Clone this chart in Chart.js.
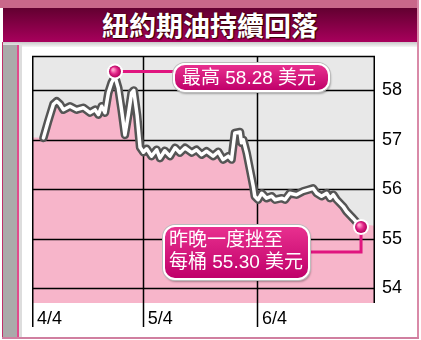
<!DOCTYPE html>
<html lang="zh-Hant">
<head>
  <meta charset="UTF-8" />
  <title>紐約期油持續回落</title>
  <style>
    body { margin: 0; background: #fff; font-family: "Liberation Sans", "Noto Sans CJK TC", sans-serif; }
    #frame { position: relative; width: 421px; height: 340px; overflow: hidden; }
    #frame div, #frame canvas { position: absolute; }
    .topstrip { left: 0; top: 0; width: 418px; height: 8px; background: #c9678a; }
    .titlebar { left: 3px; top: 8px; width: 414px; height: 34px; background: linear-gradient(#620030, #a8005c); color: #fff;
      font: bold 27px "Noto Sans CJK TC", sans-serif; text-align: center; line-height: 34px; text-shadow: 0 0 2px #300, 1px 1px 1px #300; }
    .subbar { left: 3px; top: 42px; width: 414px; height: 5px; background: linear-gradient(#c8c8c8, #f6f6f6); }
    .leftedge { left: 2px; top: 42px; width: 1px; height: 296px; background: #c0306a; }
    .grayband { left: 3px; top: 45px; width: 14px; height: 293px; background: #aaa; }
    .pinkline { left: 17px; top: 45px; width: 2px; height: 293px; background: #e04a8c; }
    .lightline { left: 19px; top: 45px; width: 3px; height: 293px; background: #ddd; }
    .rightedge { left: 417px; top: 0; width: 2px; height: 338px; background: #d98aa8; }
    .bottomedge { left: 2px; top: 337px; width: 417px; height: 2px; background: #d07fa0; }
    #plotbg { left: 32px; top: 56px; width: 343px; height: 247px; background: #e8e8e8; }
    #chart { left: 32px; top: 38px; }
    .tag { box-sizing: border-box; border: 2px solid #fff; border-radius: 12px; color: #fff; font-size: 19px;
      background: linear-gradient(#e8308f, #c0006a); box-shadow: 0 0 0 1px #bbb, 1px 2px 2px rgba(0,0,0,0.3); white-space: nowrap; }
    #tagMax { left: 173px; top: 63px; width: 157px; height: 29px; padding-left: 7px; line-height: 25px; }
    #tagLast { left: 163px; top: 225px; width: 147px; height: 55px; padding: 2px 0 0 4px; line-height: 22px; }
  </style>
</head>
<body>
  <div id="frame">
    <div class="topstrip"></div>
    <div class="titlebar">紐約期油持續回落</div>
    <div class="subbar"></div>
    <div class="leftedge"></div>
    <div class="grayband"></div>
    <div class="pinkline"></div>
    <div class="lightline"></div>
    <div class="rightedge"></div>
    <div class="bottomedge"></div>
    <div id="plotbg"></div>
    <canvas id="chart" width="389" height="302"></canvas>
    <div class="tag" id="tagMax">最高 58.28 美元</div>
    <div class="tag" id="tagLast">昨晚一度挫至<br>每桶 55.30 美元</div>
  </div>

  <script src="https://cdn.jsdelivr.net/npm/chart.js"></script>
  <script>
    // days counted from 4/4
    const xTickDays = [0, 30, 61];
    const xTickLabels = ["4/4", "5/4", "6/4"];
    const yTicks = [54, 55, 56, 57, 58];

    const days = [
      3.1, 4.4, 5.8, 6.7, 7.6, 8.5, 10.3, 12.1, 13.9, 15.7,
      17.1, 18.0, 18.9, 19.8, 20.7, 21.6, 22.5, 23.4, 24.3, 25.2,
      26.1, 27.0, 27.6, 28.5, 29.3, 30.2, 31.1, 32.4, 33.8, 34.7,
      36.0, 37.4, 38.8, 40.1, 41.5, 43.3, 44.6, 46.0, 47.3, 49.1,
      50.5, 51.8, 53.2, 54.1, 55.0, 56.4, 56.8, 57.3, 58.2, 59.1,
      60.0, 60.4, 61.3, 62.3, 63.6, 65.0, 65.9, 67.7, 68.6, 69.9,
      71.7, 73.5, 74.9, 76.2, 77.2, 78.5, 79.9, 80.8, 81.7, 82.6,
      83.5, 84.4, 85.3, 86.2, 87.1, 88.4
    ];
    const prices = [
      57.04, 57.38, 57.72, 57.78, 57.72, 57.61, 57.68, 57.61, 57.65, 57.55,
      57.61, 57.51, 57.68, 57.55, 57.95, 58.16, 58.28, 58.05, 57.60, 57.10,
      57.50, 57.95, 58.00, 57.50, 56.85, 56.75, 56.82, 56.67, 56.80, 56.63,
      56.78, 56.67, 56.84, 56.74, 56.84, 56.74, 56.80, 56.70, 56.77, 56.67,
      56.76, 56.60, 56.67, 56.60, 57.14, 57.16, 56.94, 57.00, 56.74, 56.40,
      56.06, 55.86, 55.79, 55.92, 55.82, 55.86, 55.79, 55.82, 55.79, 55.92,
      55.89, 55.96, 55.99, 56.02, 55.92, 55.86, 55.92, 55.82, 55.89, 55.79,
      55.72, 55.65, 55.55, 55.48, 55.41, 55.30
    ];
    // pink area runs flat out to the plot edges
    const fillEdgeDays = [0, 93];
    const fillEdgePrices = [57.05, 55.26];

    const points = days.map((d, i) => ({ x: d, y: prices[i] }));
    const fillPoints = [{ x: fillEdgeDays[0], y: fillEdgePrices[0] }, ...points, { x: fillEdgeDays[1], y: fillEdgePrices[1] }];

    // grid goes over the pink fill but under the price line:
    // drawn just before the grey outline dataset (index 1)
    const frameGrid = {
      id: "frameGrid",
      beforeDatasetDraw(chart, args) {
        if (args.index !== 1) return;
        const { ctx, chartArea: a, scales: { x, y } } = chart;
        ctx.save();
        ctx.strokeStyle = "#000";
        ctx.lineWidth = 1.5;
        ctx.beginPath();
        xTickDays.forEach(d => {
          const px = Math.max(a.left + 0.75, Math.round(x.getPixelForValue(d)) + 0.5);
          ctx.moveTo(px, a.top); ctx.lineTo(px, a.bottom + 24);
        });
        yTicks.forEach(v => {
          const py = Math.round(y.getPixelForValue(v)) + 0.5;
          ctx.moveTo(a.left, py); ctx.lineTo(a.right, py);
        });
        ctx.moveTo(a.left, a.top + 0.75); ctx.lineTo(a.right, a.top + 0.75);
        ctx.moveTo(a.right - 0.75, a.top); ctx.lineTo(a.right - 0.75, a.bottom);
        ctx.stroke();
        ctx.restore();
      }
    };

    function drawDot(ctx, p) {
      ctx.beginPath(); ctx.arc(p.x, p.y, 8, 0, Math.PI * 2); ctx.fillStyle = "#fff"; ctx.fill();
      const g = ctx.createRadialGradient(p.x - 2, p.y - 2, 1, p.x, p.y, 6);
      g.addColorStop(0, "#ff9cc8"); g.addColorStop(0.5, "#e2268a"); g.addColorStop(1, "#b0005a");
      ctx.beginPath(); ctx.arc(p.x, p.y, 6, 0, Math.PI * 2); ctx.fillStyle = g; ctx.fill();
    }

    const callouts = {
      id: "callouts",
      afterDatasetsDraw(chart) {
        const { ctx, scales: { x, y } } = chart;
        const iMax = prices.indexOf(Math.max(...prices));
        const iLast = prices.length - 1;
        const pMax = { x: x.getPixelForValue(days[iMax]), y: y.getPixelForValue(prices[iMax]) - 5 };
        const pLast = { x: x.getPixelForValue(days[iLast]) + 3, y: y.getPixelForValue(prices[iLast]) + 3 };
        ctx.save();
        ctx.strokeStyle = "#e0157f"; ctx.lineWidth = 3;
        ctx.beginPath(); ctx.moveTo(pMax.x, pMax.y); ctx.lineTo(145, pMax.y); ctx.stroke();
        ctx.beginPath(); ctx.moveTo(pLast.x, pLast.y); ctx.lineTo(pLast.x, 214); ctx.lineTo(275, 214); ctx.stroke();
        drawDot(ctx, pMax);
        drawDot(ctx, pLast);
        ctx.restore();
      }
    };

    try {
      new Chart(document.getElementById("chart"), {
        type: "line",
        data: {
          datasets: [
            { data: points, borderColor: "#fff", borderWidth: 3.5, pointRadius: 0, fill: false, borderJoinStyle: "round", borderCapStyle: "round" },
            { data: points, borderColor: "#555", borderWidth: 8.5, pointRadius: 0, fill: false, borderJoinStyle: "round", borderCapStyle: "round" },
            { data: fillPoints, borderWidth: 0, pointRadius: 0, fill: "start", backgroundColor: "#f7b5ca" }
          ]
        },
        options: {
          responsive: false,
          animation: false,
          layout: { padding: 0, autoPadding: false },
          plugins: {
            legend: { display: false },
            tooltip: { enabled: false }
          },
          scales: {
            x: {
              type: "linear", min: 0, max: 93,
              afterBuildTicks: s => { s.ticks = xTickDays.map(v => ({ value: v })); },
              afterFit: s => { s.height = 37; },
              ticks: {
                callback: (v) => xTickLabels[xTickDays.indexOf(v)],
                align: "start", labelOffset: 5, padding: -19, maxRotation: 0,
                color: "#000", font: { family: "Liberation Sans", size: 18 }
              },
              grid: { color: "transparent", tickLength: 24 },
              border: { display: false }
            },
            y: {
              position: "right", min: 53.7, max: 58.7,
              afterBuildTicks: s => { s.ticks = yTicks.map(v => ({ value: v })); },
              afterFit: s => { s.width = 46; },
              ticks: { padding: 7, color: "#000", font: { family: "Liberation Sans", size: 18 } },
              grid: { color: "transparent", drawTicks: false },
              border: { display: false }
            }
          }
        },
        plugins: [frameGrid, callouts]
      });
    } catch (e) { console.error(e); }
  </script>
</body>
</html>
